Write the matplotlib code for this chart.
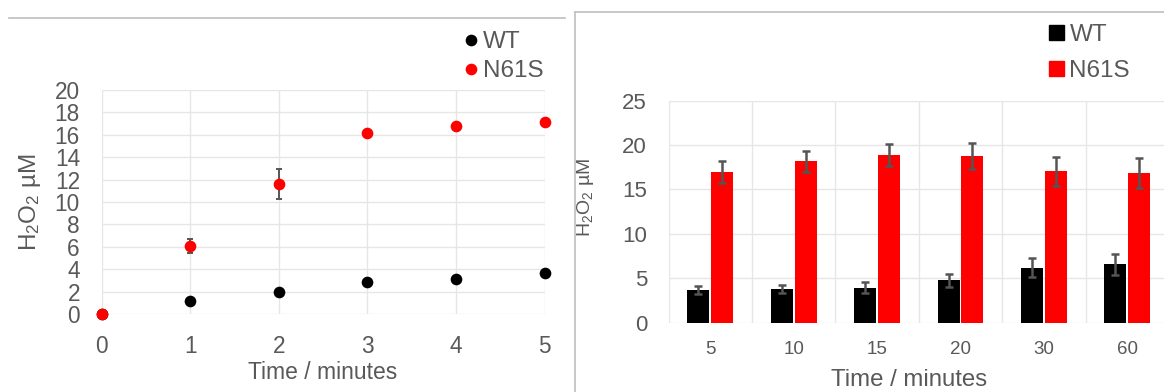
import matplotlib
matplotlib.use("Agg")
import matplotlib.pyplot as plt
from matplotlib.lines import Line2D
from matplotlib.patches import Patch
import numpy as np

plt.rcParams['font.family'] = ['Liberation Sans', 'DejaVu Sans']
plt.rcParams['mathtext.fontset'] = 'custom'
plt.rcParams['mathtext.rm'] = 'Liberation Sans'
plt.rcParams['mathtext.it'] = 'Liberation Sans:italic'
plt.rcParams['mathtext.bf'] = 'Liberation Sans:bold'

# ---- time course, 0-5 min (scatter) ----
minutes = [0, 1, 2, 3, 4, 5]
wt_course = [0.0, 1.16, 1.93, 2.86, 3.15, 3.65]
wt_course_err = [0.0, 0.1, 0.1, 0.15, 0.15, 0.15]
n61s_course = [0.0, 6.07, 11.58, 16.16, 16.76, 17.17]
n61s_course_err = [0.0, 0.6, 1.33, 0.2, 0.2, 0.2]

# ---- longer incubations (bars) ----
bar_labels = ['5', '10', '15', '20', '30', '60']
wt_bar = [3.72, 3.75, 3.94, 4.77, 6.2, 6.57]
wt_bar_err = [0.45, 0.45, 0.6, 0.75, 1.1, 1.2]
n61s_bar = [16.97, 18.17, 18.88, 18.77, 17.05, 16.86]
n61s_bar_err = [1.25, 1.2, 1.25, 1.5, 1.6, 1.7]

series_names = ['WT', 'N61S']
y_title = r'$\mathregular{H_2O_2}$ µM'
x_title = 'Time / minutes'

BLACK = '#000000'
RED = '#ff0000'
TXT = '#595959'
GRID = '#e6e6e6'
ERR = '#555555'
FRAME = '#bfbfbf'

W, H = 1164, 392
fig = plt.figure(figsize=(W / 100, H / 100), dpi=100)


def fx(px):
    return px / W


def fy(py):
    return 1 - py / H


# panel frame lines
fig.add_artist(Line2D([fx(9), fx(565)], [fy(18), fy(18)], transform=fig.transFigure,
                      color=FRAME, lw=1.2))
fig.add_artist(Line2D([fx(575), fx(575)], [fy(12), fy(392)], transform=fig.transFigure,
                      color=FRAME, lw=1.2))
fig.add_artist(Line2D([fx(575), fx(1164)], [fy(12), fy(12)], transform=fig.transFigure,
                      color=FRAME, lw=1.2))

# ================= left: scatter =================
L0, L1, T0, B0 = 101.5, 544.5, 90, 314
ax1 = fig.add_axes([fx(L0), fy(B0), (L1 - L0) / W, (B0 - T0) / H])
ax1.set_xlim(0, 5)
ax1.set_ylim(0, 20)
ax1.set_xticks(minutes)
ax1.set_yticks(np.arange(0, 21, 2))
for s in ax1.spines.values():
    s.set_visible(False)
ax1.grid(True, color=GRID, lw=1.0)
ax1.set_axisbelow(True)
ax1.tick_params(length=0, colors=TXT, labelsize=16.3)
ax1.tick_params(axis='y', pad=15.5)
ax1.tick_params(axis='x', pad=15)

ax1.errorbar(minutes, wt_course, yerr=wt_course_err, fmt='none', ecolor=ERR,
             elinewidth=1.4, capsize=2.5, capthick=1.4, clip_on=False, zorder=3)
ax1.errorbar(minutes, n61s_course, yerr=n61s_course_err, fmt='none', ecolor=ERR,
             elinewidth=1.4, capsize=2.5, capthick=1.4, clip_on=False, zorder=3)
h_wt, = ax1.plot(minutes, wt_course, 'o', color=BLACK, ms=8.4, mew=0, clip_on=False,
                 zorder=4, label=series_names[0])
h_n, = ax1.plot(minutes, n61s_course, 'o', color=RED, ms=8.4, mew=0, clip_on=False,
                zorder=5, label=series_names[1])

ax1.set_xlabel(x_title, fontsize=16.5, color=TXT)
ax1.xaxis.set_label_coords(fx(323), fy(361), transform=fig.transFigure)
ax1.set_ylabel(y_title, fontsize=17.5, color=TXT)
ax1.yaxis.set_label_coords(fx(43), fy(202), transform=fig.transFigure)

leg1 = ax1.legend(handles=[h_wt, h_n], loc='upper left',
                  bbox_to_anchor=(fx(461), fy(31)), bbox_transform=fig.transFigure,
                  frameon=False, fontsize=17.5, handlelength=0.8, handletextpad=0.1,
                  labelspacing=0.3, borderpad=0, borderaxespad=0, markerscale=1.0)
for t in leg1.get_texts():
    t.set_color(TXT)

# ================= right: bars =================
R0, R1, RT, RB = 668.6, 1169.0, 100.7, 322.7
ax2 = fig.add_axes([fx(R0), fy(RB), (R1 - R0) / W, (RB - RT) / H])
x = np.arange(len(bar_labels))
ax2.set_xlim(-0.5, len(bar_labels) - 0.5)
ax2.set_ylim(0, 25)
ax2.set_yticks(np.arange(0, 26, 5))
ax2.set_xticks(x)
ax2.set_xticklabels(bar_labels)
ax2.set_xticks(np.arange(-0.5, len(bar_labels), 1), minor=True)
for s in ax2.spines.values():
    s.set_visible(False)
ax2.grid(True, axis='y', color=GRID, lw=1.0)
ax2.grid(True, axis='x', which='minor', color=GRID, lw=1.0)
ax2.grid(False, axis='x', which='major')
ax2.set_axisbelow(True)
ax2.tick_params(which='both', length=0, colors=TXT)
ax2.tick_params(axis='y', labelsize=16, pad=15.5)
ax2.tick_params(axis='x', labelsize=13.5, pad=13)

bw = 0.264
off = 0.142
ax2.bar(x - off, wt_bar, bw, color=BLACK, label=series_names[0], zorder=2)
ax2.bar(x + off, n61s_bar, bw, color=RED, label=series_names[1], zorder=2)
ax2.errorbar(x - off, wt_bar, yerr=wt_bar_err, fmt='none', ecolor=ERR,
             elinewidth=1.8, capsize=2.8, capthick=1.8, zorder=3)
ax2.errorbar(x + off, n61s_bar, yerr=n61s_bar_err, fmt='none', ecolor=ERR,
             elinewidth=1.8, capsize=2.8, capthick=1.8, zorder=3)

ax2.set_xlabel(x_title, fontsize=17.3, color=TXT)
ax2.xaxis.set_label_coords(fx(908.6), fy(369.5), transform=fig.transFigure)
ax2.set_ylabel(y_title, fontsize=14, color=TXT)
ax2.yaxis.set_label_coords(fx(596), fy(197), transform=fig.transFigure)

leg2 = ax2.legend(handles=[Patch(color=BLACK), Patch(color=RED)], labels=series_names,
                  loc='upper left', bbox_to_anchor=(fx(1049), fy(24)),
                  bbox_transform=fig.transFigure, frameon=False, fontsize=17.5,
                  handlelength=0.62, handleheight=0.62, handletextpad=0.22,
                  labelspacing=0.58, borderpad=0, borderaxespad=0)
for t in leg2.get_texts():
    t.set_color(TXT)

fig.savefig('out.png', dpi=100)
